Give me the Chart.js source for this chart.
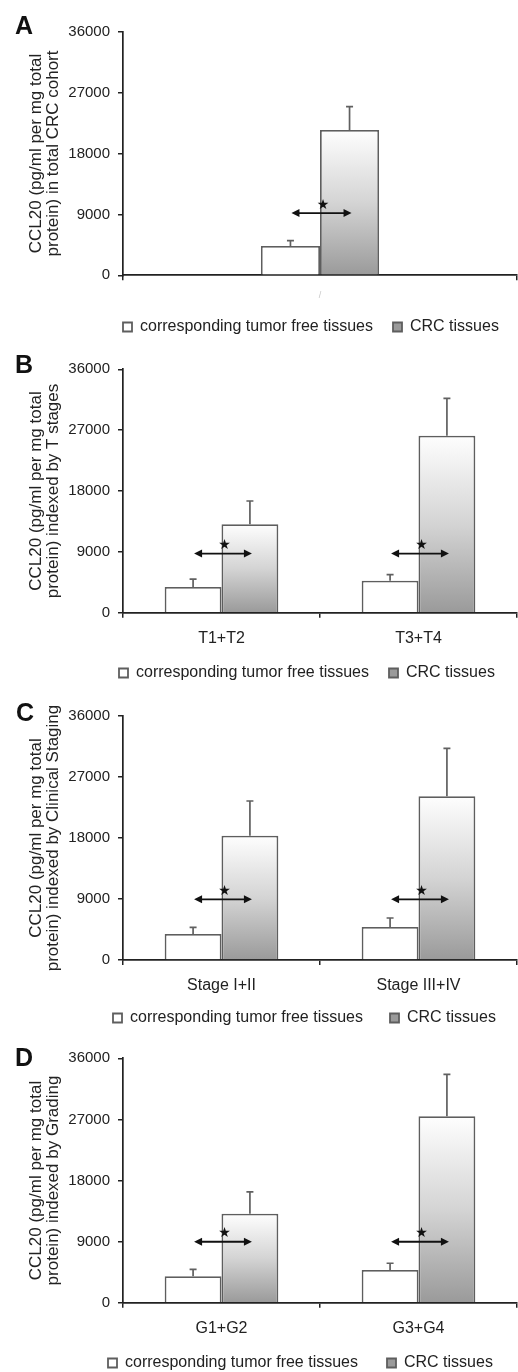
<!DOCTYPE html>
<html><head><meta charset="utf-8">
<script src="https://cdn.jsdelivr.net/npm/chart.js@4.4.1/dist/chart.umd.min.js"></script>
<style>
html,body{margin:0;padding:0;background:#fff;}
#wrap{position:relative;width:518px;height:1372px;overflow:hidden;background:#fff;}
canvas{position:absolute;left:0;}
.letter{position:absolute;font:bold 25px/25px "Liberation Sans",Arial,sans-serif;color:#111;}
</style></head><body>
<div id="wrap">
  <canvas id="cA"></canvas>
  <canvas id="cB"></canvas>
  <canvas id="cC"></canvas>
  <canvas id="cD"></canvas>
  <div class="letter" style="left:15px;top:13px">A</div>
  <div class="letter" style="left:15px;top:352px">B</div>
  <div class="letter" style="left:16px;top:700px">C</div>
  <div class="letter" style="left:15px;top:1045px">D</div>
</div>
<script>
// ---- data ----
const seriesNames = ['corresponding tumor free tissues', 'CRC tissues'];
const yTicks = [0, 9000, 18000, 27000, 36000];
const yTitleLine1 = 'CCL20 (pg/ml per mg total';

const catsA = ['/'];
const freeA = [4330];
const freeErrA = [780];
const crcA = [21470];
const crcErrA = [3450];
const sigA = [9200];
const titleA = 'protein) in total CRC cohort';

const catsB = ['T1+T2', 'T3+T4'];
const freeB = [3800, 4730];
const freeErrB = [1180, 890];
const crcB = [13080, 26180];
const crcErrB = [3440, 5530];
const sigB = [8750, 8750];
const titleB = 'protein) indexed by T stages';

const catsC = ['Stage I+II', 'Stage III+IV'];
const freeC = [3840, 4870];
const freeErrC = [980, 1330];
const crcC = [18340, 24150];
const crcErrC = [5120, 7080];
const sigC = [8950, 8950];
const titleC = 'protein) indexed by Clinical Staging';

const catsD = ['G1+G2', 'G3+G4'];
const freeD = [3890, 4820];
const freeErrD = [1030, 990];
const crcD = [13110, 27460];
const crcErrD = [3200, 6180];
const sigD = [8980, 8980];
const titleD = 'protein) indexed by Grading';

// ---- plugins ----
const errPlugin = {
  id: 'errbars',
  afterDatasetsDraw(chart) {
    const ctx = chart.ctx, y = chart.scales.y;
    chart.data.datasets.forEach((ds, i) => {
      const meta = chart.getDatasetMeta(i);
      meta.data.forEach((bar, j) => {
        const top = y.getPixelForValue(ds.data[j] + ds.errors[j]);
        ctx.save();
        ctx.strokeStyle = '#606060';
        ctx.lineWidth = 1.7;
        ctx.beginPath();
        ctx.moveTo(bar.x, bar.y);
        ctx.lineTo(bar.x, top);
        ctx.moveTo(bar.x - 3.5, top);
        ctx.lineTo(bar.x + 3.5, top);
        ctx.stroke();
        ctx.restore();
      });
    });
  }
};

const sigPlugin = {
  id: 'sig',
  afterDatasetsDraw(chart, args, opts) {
    const ctx = chart.ctx, y = chart.scales.y;
    const m0 = chart.getDatasetMeta(0), m1 = chart.getDatasetMeta(1);
    (opts.levels || []).forEach((lv, j) => {
      const x1 = m0.data[j].x + 1, x2 = m1.data[j].x + 2;
      const yy = y.getPixelForValue(lv);
      ctx.save();
      ctx.strokeStyle = '#111';
      ctx.fillStyle = '#111';
      ctx.lineWidth = 1.8;
      ctx.beginPath();
      ctx.moveTo(x1 + 4, yy);
      ctx.lineTo(x2 - 4, yy);
      ctx.stroke();
      ctx.beginPath();
      ctx.moveTo(x1, yy); ctx.lineTo(x1 + 8, yy - 4); ctx.lineTo(x1 + 8, yy + 4); ctx.closePath();
      ctx.moveTo(x2, yy); ctx.lineTo(x2 - 8, yy - 4); ctx.lineTo(x2 - 8, yy + 4); ctx.closePath();
      ctx.fill();
      const mid = (m0.data[j].x + m0.data[j].width / 2);
      ctx.font = 'bold 14px "DejaVu Sans"';
      ctx.textAlign = 'center';
      ctx.textBaseline = 'middle';
      ctx.fillText('\u2605', mid + 3, yy - 8);
      ctx.restore();
    });
  }
};

// place the legend row: first box at startX, text row centred on centerY
const legendPlace = {
  id: 'legendPlace',
  afterLayout(chart, args, opts) {
    const lg = chart.legend;
    if (!lg || !lg.lineWidths) return;
    const P = lg.options.labels.padding;
    const fs = lg.options.labels.font.size;
    const start = (lg.left + P + lg.right - lg.lineWidths[0]) / 2;
    const dx = opts.startX - start;
    lg.left += dx; lg.right += dx;
    const dy = (opts.centerY - P - fs / 2) - lg.top;
    lg.top += dy; lg.bottom += dy;
  }
};

function crcFill(ctx) {
  if (ctx.type !== 'data') return '#b4b4b4';
  const chart = ctx.chart, y = chart.scales.y;
  if (!y || !isFinite(y.getPixelForValue(0))) return '#cccccc';
  const top = y.getPixelForValue(ctx.raw);
  const bot = y.getPixelForValue(0);
  if (!isFinite(top) || top === bot) return '#cccccc';
  const g = chart.ctx.createLinearGradient(0, top, 0, bot);
  g.addColorStop(0, '#fefefe');
  g.addColorStop(0.5, '#d4d4d4');
  g.addColorStop(1, '#9a9a9a');
  return g;
}

const FONT = '"Liberation Sans", Arial, sans-serif';
const X_HEIGHT = 40;

function makePanel(id, cv) {
  const el = document.getElementById(id);
  const H = Math.ceil(cv.plotBottom + X_HEIGHT + 26 + cv.legPad);
  el.width = 518; el.height = H;
  el.style.top = cv.top + 'px';
  const xHeight = H - (26 + cv.legPad) - cv.plotBottom;
  return new Chart(el, {
    type: 'bar',
    data: {
      labels: cv.labels,
      datasets: [
        { label: seriesNames[0], data: cv.free, errors: cv.freeErr,
          backgroundColor: '#ffffff', borderColor: '#5e5e5e', borderWidth: 1.8 },
        { label: seriesNames[1], data: cv.crc, errors: cv.crcErr,
          backgroundColor: crcFill, borderColor: '#5e5e5e', borderWidth: 1.8 }
      ]
    },
    options: {
      responsive: false,
      animation: false,
      devicePixelRatio: 1,
      layout: { padding: { top: cv.plotTop, right: 1, left: 0, bottom: 0 } },
      datasets: { bar: { categoryPercentage: cv.catPct, barPercentage: 1 } },
      scales: {
        x: {
          grid: { display: true, drawOnChartArea: false, drawTicks: true, tickLength: 5,
                  color: '#222', lineWidth: 1.5, offset: true },
          border: { display: true, color: '#222', width: 1.7 },
          ticks: { color: cv.labelColor || '#222', padding: cv.labelPad,
                   font: { family: FONT, size: cv.labelSize || 16 } },
          afterFit(s) { s.height = xHeight; }
        },
        y: {
          min: 0, max: 36000,
          afterBuildTicks(s) { s.ticks = yTicks.map(v => ({ value: v })); },
          grid: { display: true, drawOnChartArea: false, drawTicks: true, tickLength: 5,
                  color: '#222', lineWidth: 1.5 },
          border: { display: true, color: '#222', width: 1.7 },
          ticks: { color: '#222', padding: 8, font: { family: FONT, size: 15 },
                   callback: v => String(v) },
          title: { display: true, text: [yTitleLine1, cv.title], color: '#222',
                   font: { family: FONT, size: 17, lineHeight: 1 },
                   padding: { top: 28, bottom: 0 } },
          afterFit(s) { s.width = 123; }
        }
      },
      plugins: {
        legend: {
          display: true, position: 'bottom', fullSize: true,
          labels: { boxWidth: 9, boxHeight: 9, padding: cv.legPad, color: '#222',
                    font: { family: FONT, size: 16 } }
        },
        tooltip: { enabled: false },
        sig: { levels: cv.sig },
        legendPlace: { startX: cv.legX, centerY: cv.legY }
      }
    },
    plugins: [errPlugin, sigPlugin, legendPlace]
  });
}

makePanel('cA', { top: 0, plotTop: 31.7, plotBottom: 275.3, catPct: 0.3,
  labels: catsA, free: freeA, freeErr: freeErrA, crc: crcA, crcErr: crcErrA, sig: sigA,
  title: titleA, labelPad: 10, labelColor: '#c8c8c8', labelSize: 9,
  legX: 123, legY: 327, legPad: 20 });
makePanel('cB', { top: 340, plotTop: 29.3, plotBottom: 272.7, catPct: 0.577,
  labels: catsB, free: freeB, freeErr: freeErrB, crc: crcB, crcErr: crcErrB, sig: sigB,
  title: titleB, labelPad: 11, legX: 119, legY: 333, legPad: 20 });
makePanel('cC', { top: 680, plotTop: 36, plotBottom: 280, catPct: 0.577,
  labels: catsC, free: freeC, freeErr: freeErrC, crc: crcC, crcErr: crcErrC, sig: sigC,
  title: titleC, labelPad: 11, legX: 113, legY: 338, legPad: 27 });
makePanel('cD', { top: 1020, plotTop: 38.3, plotBottom: 282.7, catPct: 0.577,
  labels: catsD, free: freeD, freeErr: freeErrD, crc: crcD, crcErr: crcErrD, sig: sigD,
  title: titleD, labelPad: 11, legX: 108, legY: 343, legPad: 29 });
</script>
</body></html>
